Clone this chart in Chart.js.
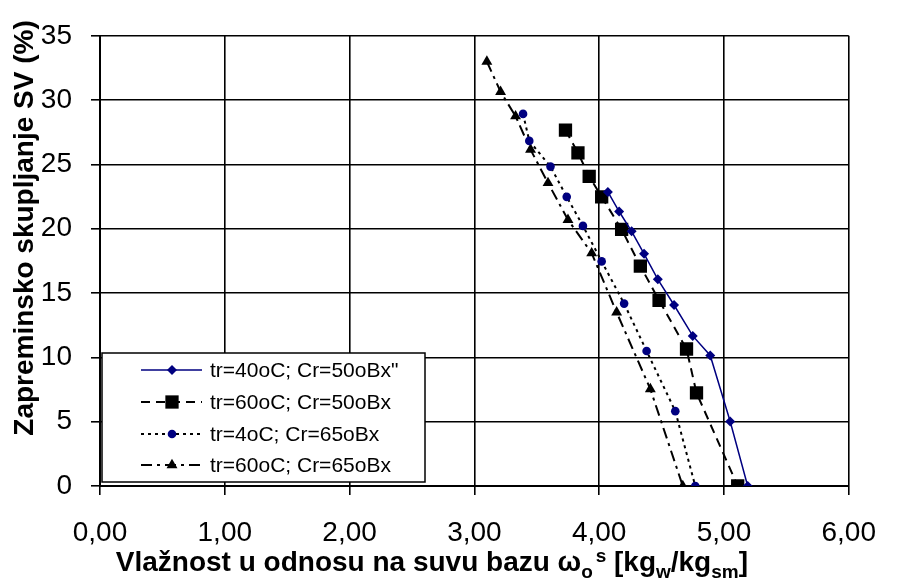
<!DOCTYPE html>
<html>
<head>
<meta charset="utf-8">
<script src="https://cdn.jsdelivr.net/npm/chart.js@4.4.1/dist/chart.umd.min.js"></script>
<style>
  html, body { margin: 0; padding: 0; background: #fff; }
  #wrap { width: 897px; height: 581px; }
</style>
</head>
<body>
<div id="wrap"><canvas id="chart" width="897" height="581"></canvas></div>
<script>
const seriesLabels = [
  'tr=40oC; Cr=50oBx"',
  "tr=60oC; Cr=50oBx",
  "tr=4oC; Cr=65oBx",
  "tr=60oC; Cr=65oBx"
];

// moisture (x) and shrinkage (y) per series
const s1x = [4.07, 4.16, 4.26, 4.36, 4.47, 4.60, 4.75, 4.89, 5.05, 5.19];
const s1y = [22.86, 21.34, 19.8, 18.05, 16.07, 14.07, 11.67, 10.15, 5.01, 0];
const s2x = [3.73, 3.83, 3.92, 4.02, 4.18, 4.33, 4.48, 4.70, 4.78, 5.11];
const s2y = [27.66, 25.9, 24.07, 22.48, 19.95, 17.1, 14.43, 10.65, 7.24, 0];
const s3x = [3.39, 3.44, 3.61, 3.74, 3.87, 4.02, 4.20, 4.38, 4.61, 4.77];
const s3y = [28.93, 26.83, 24.83, 22.48, 20.22, 17.46, 14.18, 10.5, 5.82, 0];
const s4x = [3.10, 3.21, 3.33, 3.45, 3.59, 3.75, 3.94, 4.14, 4.41, 4.67];
const s4y = [33.0, 30.65, 28.75, 26.15, 23.56, 20.7, 18.1, 13.5, 7.54, 0];

const xTickLabels = ["0,00", "1,00", "2,00", "3,00", "4,00", "5,00", "6,00"];
const yTickLabels = ["0", "5", "10", "15", "20", "25", "30", "35"];

const FONT = "'Liberation Sans', Arial, sans-serif";
const NAVY = "#000080";

function pts(xs, ys) {
  return xs.map((x, i) => ({ x: x, y: ys[i] }));
}

const styles = [
  { color: NAVY, line: NAVY, dash: [], width: 1.5, point: "rectRot", r: 5 },
  { color: "#000", line: "#000", dash: [9, 6], width: 2, point: "rect", r: 9.4 },
  { color: NAVY, line: "#000", dash: [3, 4], width: 2, point: "circle", r: 4.3 },
  { color: "#000", line: "#000", dash: [11, 5, 3, 5], width: 2, point: "triangle", r: 6.3 }
];

const allData = [pts(s1x, s1y), pts(s2x, s2y), pts(s3x, s3y), pts(s4x, s4y)];

const datasets = allData.map((d, i) => ({
  label: seriesLabels[i],
  data: d,
  showLine: true,
  borderColor: styles[i].line,
  borderWidth: styles[i].width,
  borderDash: styles[i].dash,
  pointStyle: styles[i].point,
  pointRadius: styles[i].r,
  pointBackgroundColor: styles[i].color,
  pointBorderColor: styles[i].color,
  pointBorderWidth: 0,
  tension: 0
}));

function drawMarker(ctx, st, x, y) {
  ctx.save();
  ctx.setLineDash([]);
  ctx.fillStyle = st.color;
  ctx.strokeStyle = st.color;
  Chart.helpers.drawPoint(ctx, { pointStyle: st.point, radius: st.r, rotation: 0, borderWidth: 0 }, x, y);
  ctx.restore();
}

const decorPlugin = {
  id: "decor",
  afterDraw(chart) {
    const ctx = chart.ctx;
    ctx.save();

    // legend box inside plot
    const lx = 102, ly = 353, lw = 323, lh = 129;
    ctx.fillStyle = "#fff";
    ctx.fillRect(lx, ly, lw, lh);
    ctx.strokeStyle = "#000";
    ctx.lineWidth = 1.5;
    ctx.strokeRect(lx, ly, lw, lh);
    const rows = [370, 402, 434, 465];
    ctx.font = "21px " + FONT;
    ctx.textBaseline = "middle";
    ctx.textAlign = "left";
    rows.forEach((ry, i) => {
      const st = styles[i];
      ctx.save();
      ctx.strokeStyle = st.line;
      ctx.lineWidth = st.width;
      ctx.setLineDash(st.dash);
      ctx.beginPath();
      ctx.moveTo(141, ry);
      ctx.lineTo(202, ry);
      ctx.stroke();
      ctx.restore();
      drawMarker(ctx, st, 172, ry);
      ctx.fillStyle = "#000";
      ctx.fillText(seriesLabels[i], 210, ry + 1);
    });

    // y axis title
    ctx.save();
    ctx.translate(33, 228);
    ctx.rotate(-Math.PI / 2);
    ctx.font = "bold 28px " + FONT;
    ctx.textAlign = "center";
    ctx.textBaseline = "alphabetic";
    ctx.fillStyle = "#000";
    ctx.fillText("Zapreminsko skupljanje SV (%)", 0, 0);
    ctx.restore();

    // x axis title with sub/superscripts
    const parts = [
      ["Vlažnost u odnosu na suvu bazu ω", 28, 0],
      ["o", 19, 7],
      [" ", 10, 0],
      ["s", 19, -9],
      [" [kg", 28, 0],
      ["w", 19, 7],
      ["/kg", 28, 0],
      ["sm", 19, 7],
      ["]", 28, 0]
    ];
    let total = 0;
    parts.forEach(p => {
      ctx.font = "bold " + p[1] + "px " + FONT;
      p.push(ctx.measureText(p[0]).width);
      total += p[3];
    });
    let x = 748 - total;
    const base = 571;
    ctx.textAlign = "left";
    ctx.textBaseline = "alphabetic";
    ctx.fillStyle = "#000";
    parts.forEach(p => {
      ctx.font = "bold " + p[1] + "px " + FONT;
      ctx.fillText(p[0], x, base + p[2]);
      x += p[3];
    });

    ctx.restore();
  }
};

new Chart(document.getElementById("chart"), {
  type: "scatter",
  data: { datasets: datasets },
  plugins: [decorPlugin],
  options: {
    responsive: false,
    animation: false,
    devicePixelRatio: 1,
    layout: { autoPadding: false, padding: { top: 25, right: 32, left: 0, bottom: 0 } },
    plugins: {
      legend: { display: false },
      tooltip: { enabled: false }
    },
    scales: {
      x: {
        type: "linear",
        min: 0,
        max: 6,
        afterFit(scale) { scale.height = 95; },
        ticks: {
          stepSize: 1,
          color: "#000",
          padding: 21,
          font: { family: FONT, size: 28 },
          callback: v => xTickLabels[Math.round(v)]
        },
        grid: { color: "#000", lineWidth: 1.6, tickLength: 9, tickColor: "#000" },
        border: { color: "#000", width: 2 }
      },
      y: {
        type: "linear",
        min: 0,
        max: 35,
        afterFit(scale) { scale.width = 100; },
        ticks: {
          stepSize: 5,
          color: "#000",
          padding: 19,
          font: { family: FONT, size: 28 },
          callback: v => yTickLabels[Math.round(v / 5)]
        },
        grid: { color: "#000", lineWidth: 1.6, tickLength: 9, tickColor: "#000" },
        border: { color: "#000", width: 2 }
      }
    }
  }
});
</script>
</body>
</html>
